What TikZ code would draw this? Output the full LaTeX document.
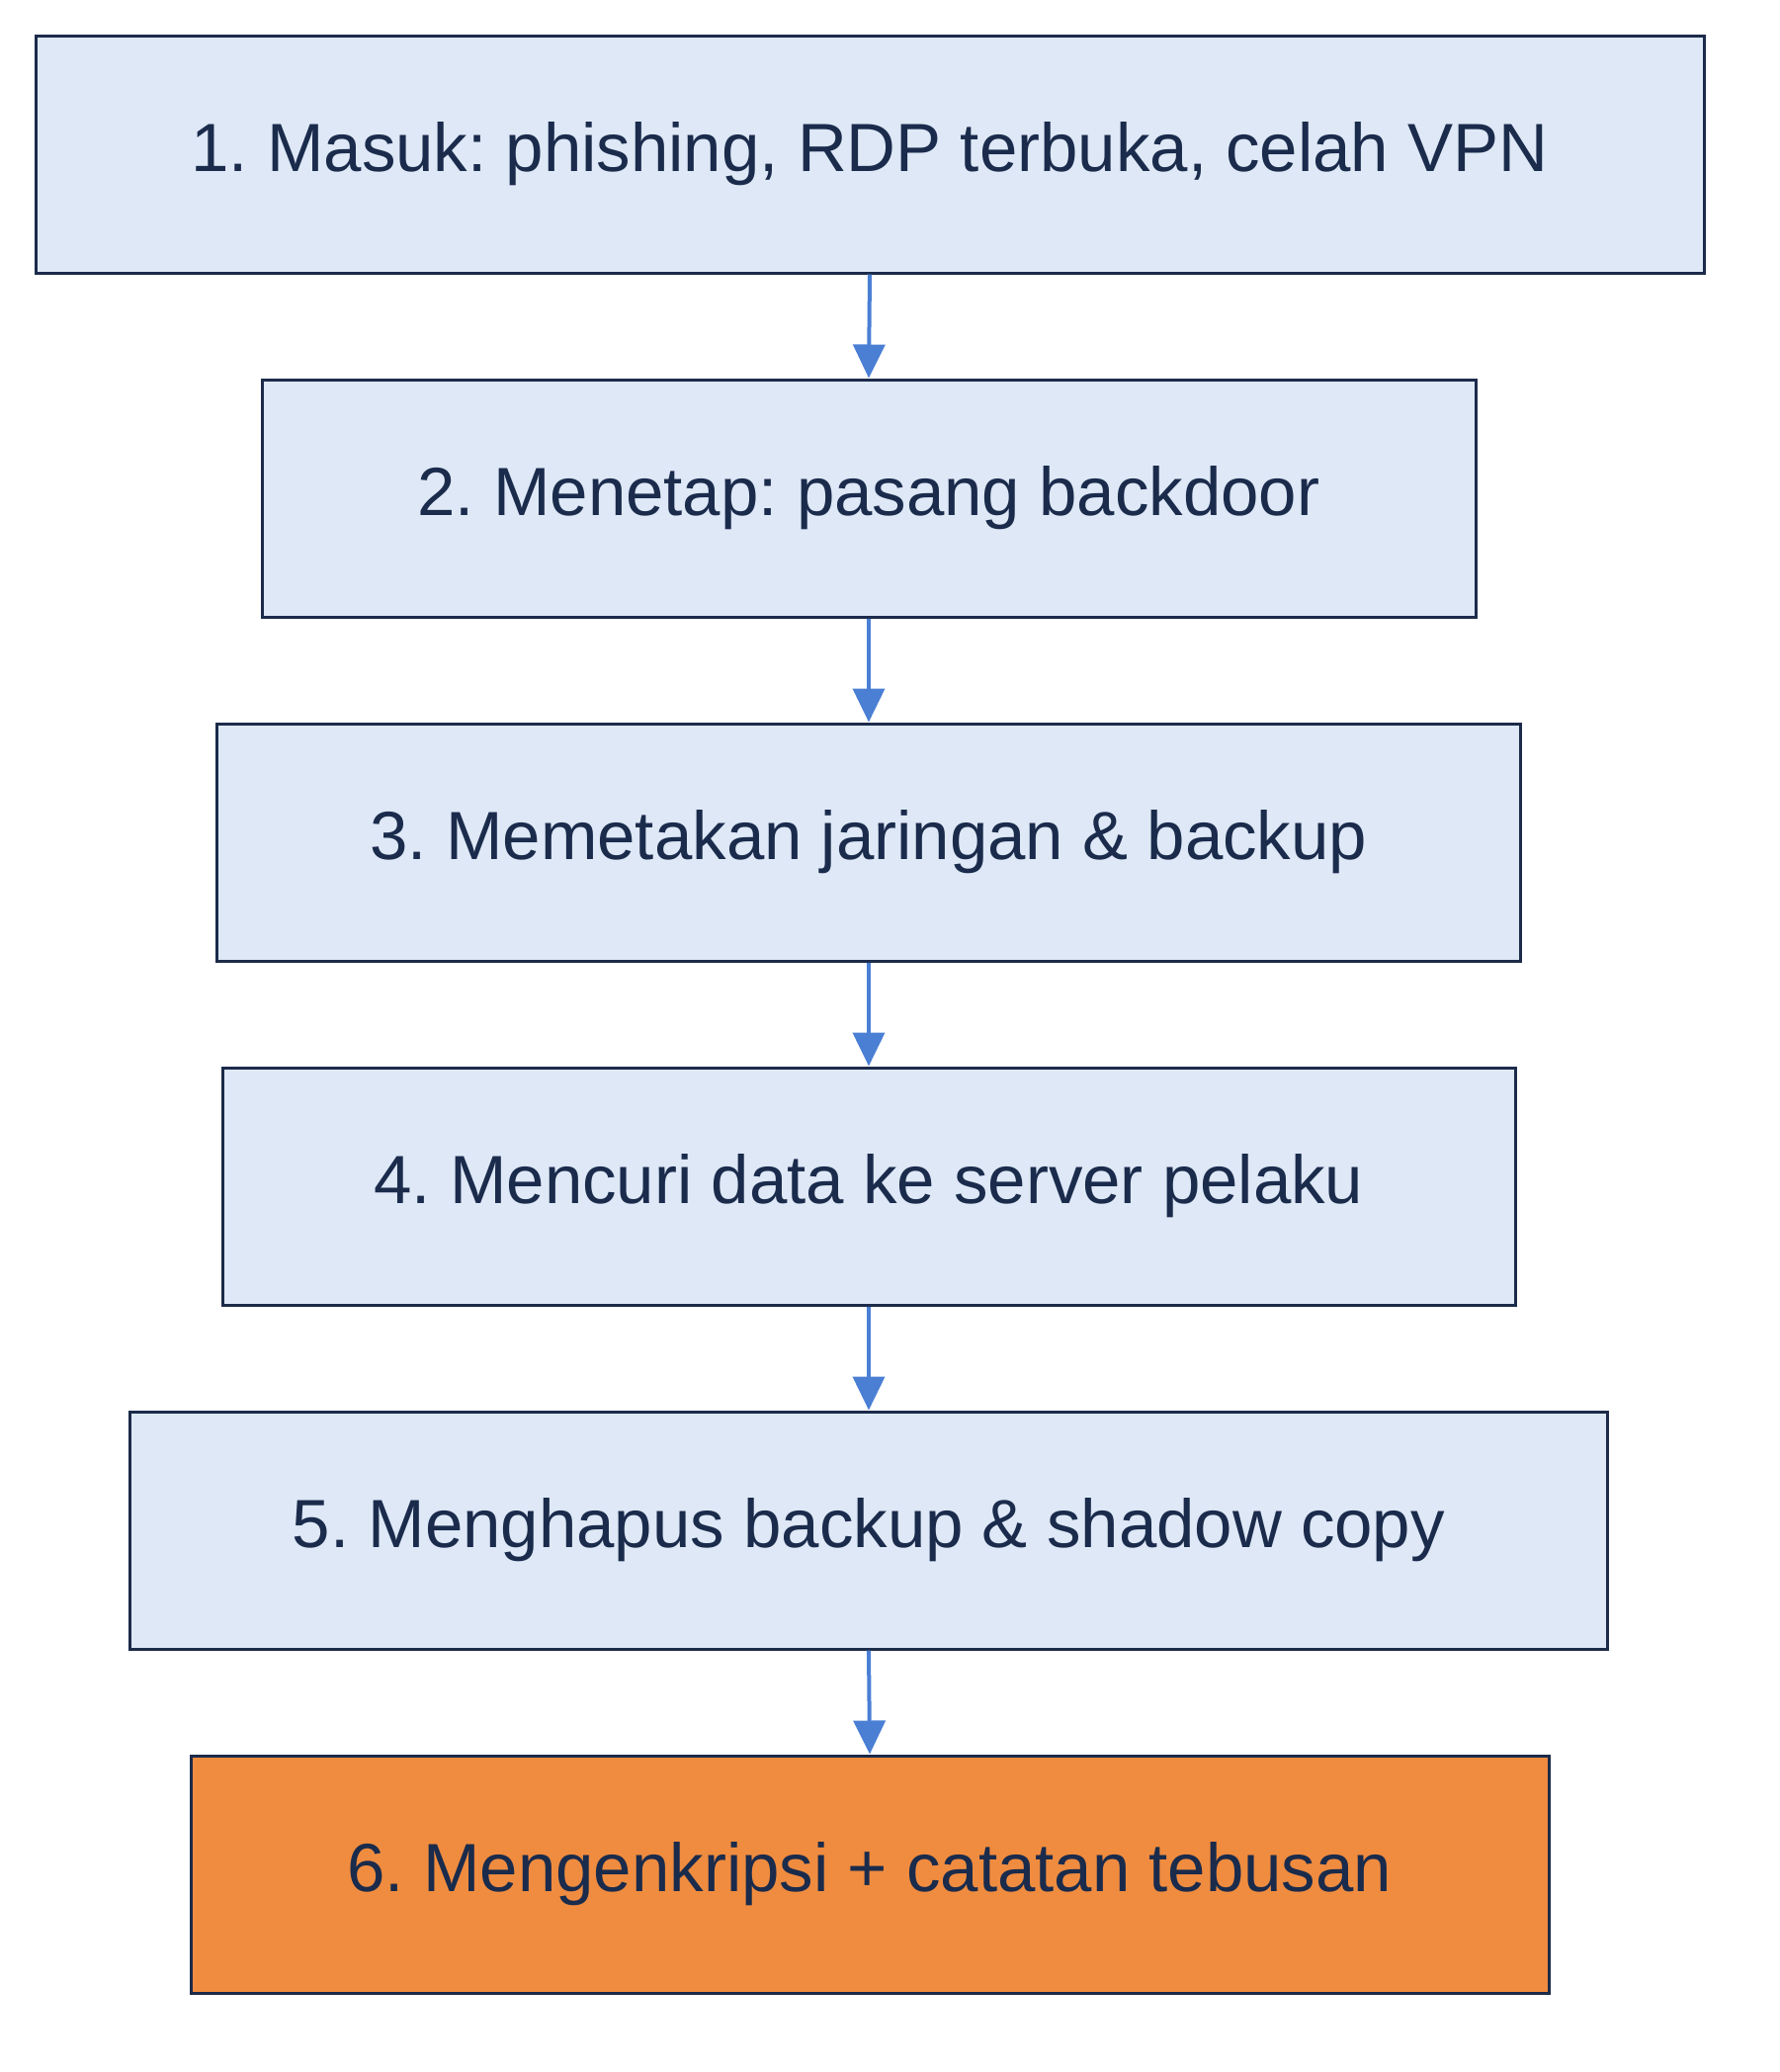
\documentclass[tikz,border=0pt]{standalone}
\usepackage{fontspec}
\setmainfont{Liberation Sans}
\usetikzlibrary{arrows.meta}
\definecolor{boxfill}{HTML}{DEE8F6}
\definecolor{boxline}{HTML}{1C2B4A}
\definecolor{txt}{HTML}{1A2B4C}
\definecolor{arr}{HTML}{4A7FD4}
\definecolor{orng}{HTML}{F08C3F}
\begin{document}
\frenchspacing
\begin{tikzpicture}[x=1pt,y=-1pt,
  stepbox/.style={draw=boxline,line width=3pt,fill=boxfill,text=txt,minimum height=240pt,inner sep=0pt,font=\fontsize{69}{76}\selectfont},
  conn/.style={draw=arr,line width=4pt,-{Triangle[length=34pt,width=32pt]}}]
\useasboundingbox (0,0) rectangle (1800,2096);
\node[stepbox,minimum width=1688pt] (s1) at (880,156) {\raisebox{2pt}{1. Masuk: phishing, RDP terbuka, celah VPN}};
\node[stepbox,minimum width=1228pt] (s2) at (879,504) {\raisebox{2pt}{2. Menetap: pasang backdoor}};
\node[stepbox,minimum width=1319pt] (s3) at (879,852) {\raisebox{2pt}{3. Memetakan jaringan \& backup}};
\node[stepbox,minimum width=1308pt] (s4) at (879,1200) {\raisebox{2pt}{4. Mencuri data ke server pelaku}};
\node[stepbox,minimum width=1495pt] (s5) at (879,1548) {\raisebox{2pt}{5. Menghapus backup \& shadow copy}};
\node[stepbox,minimum width=1374pt,fill=orng] (s6) at (880,1896) {\raisebox{2pt}{6. Mengenkripsi + catatan tebusan}};
\foreach \a/\b in {s1/s2,s2/s3,s3/s4,s4/s5,s5/s6}
  \draw[conn] (\a.south) -- (\b.north);
\end{tikzpicture}
\end{document}
